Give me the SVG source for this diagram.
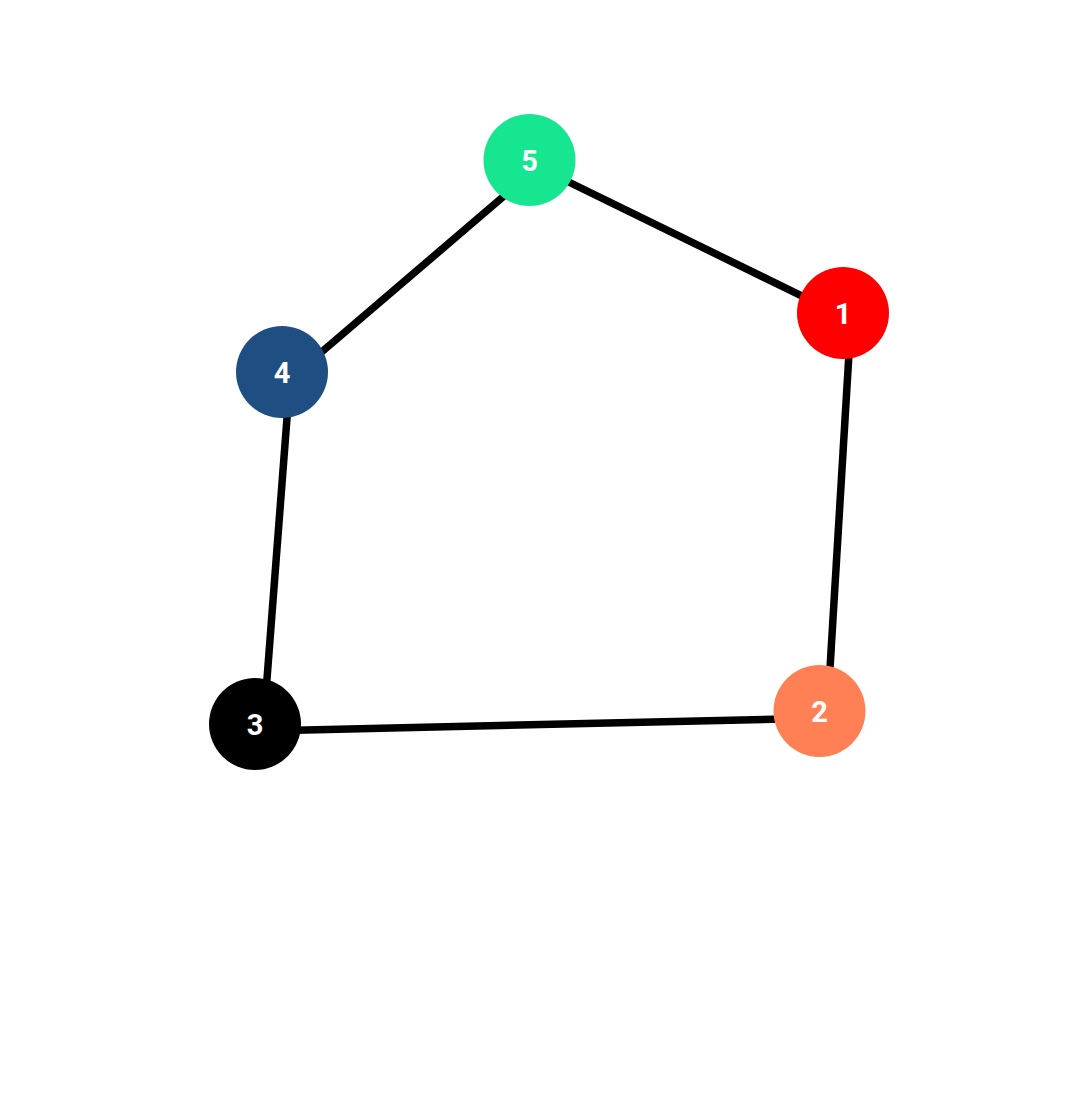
<svg xmlns="http://www.w3.org/2000/svg" width="1078" height="1100" viewBox="0 0 1078 1100">
<style>
.edge{stroke:#000;stroke-width:7.5;fill:none}
.lbl{font-family:Roboto,"Liberation Sans",sans-serif;font-weight:bold;font-size:29px;fill:#fff;text-anchor:middle;dominant-baseline:central}
</style>
<rect width="1078" height="1100" fill="#fff"/>
<g id="connectors">
<line class="edge" x1="538" y1="167" x2="851" y2="320"/>
<line class="edge" x1="538" y1="167" x2="290" y2="379"/>
<line class="edge" x1="290" y1="379" x2="263" y2="731"/>
<line class="edge" x1="263" y1="731" x2="827" y2="718"/>
<line class="edge" x1="827" y1="718" x2="851" y2="320"/>
</g>
<g id="node1"><circle cx="843" cy="313" r="46" fill="#ff0000"/><text class="lbl" x="843" y="314">1</text></g>
<g id="node2"><circle cx="819.5" cy="711" r="46" fill="#ff8055"/><text class="lbl" x="819.5" y="712">2</text></g>
<g id="node3"><circle cx="255" cy="724" r="46" fill="#000"/><text class="lbl" x="255" y="725">3</text></g>
<g id="node4"><circle cx="282" cy="372" r="46" fill="#1f4e82"/><text class="lbl" x="282" y="373">4</text></g>
<g id="node5"><circle cx="529.5" cy="160" r="46" fill="#17e690"/><text class="lbl" x="529.5" y="161">5</text></g>
</svg>
